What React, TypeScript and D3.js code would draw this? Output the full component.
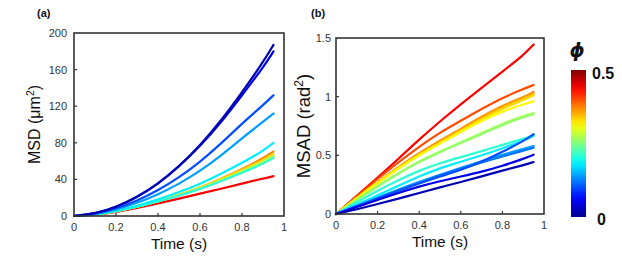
import React from "react";
import * as d3 from "d3";

// time points the curves were read at (s)
const times = [0, 0.1, 0.2, 0.3, 0.4, 0.5, 0.6, 0.7, 0.8, 0.9, 0.95];

// (a) MSD, one row per volume fraction phi
const msdPhi = [0.44, 0.37, 0.33, 0.27, 0.21, 0.18, 0.14, 0.1, 0.05, 0.02];
const msdValues = [
  [0, 1.2, 4.4, 8.8, 13.8, 19, 24.4, 29.8, 35.4, 41, 43.5],
  [0, 1.4, 5, 10, 16, 23, 31, 40.5, 51, 63, 70.5],
  [0, 1.4, 5, 10, 16, 23, 31, 40, 50, 61, 67.5],
  [0, 1.3, 5, 10, 16, 22.5, 30, 39, 48.5, 59, 65.5],
  [0, 1.3, 5, 10, 16, 22, 29.5, 38, 47, 57, 63.5],
  [0, 1.5, 5.5, 11, 18, 26, 35, 46, 58, 71, 80],
  [0, 1.8, 7, 14, 23.5, 35, 49, 66, 85, 103, 112],
  [0, 2, 8, 16.5, 28, 42, 59, 79, 101, 121, 132],
  [0, 2.5, 9.5, 20.5, 35, 54, 76, 102, 132, 162, 180],
  [0, 2.5, 9.5, 20.5, 35, 54, 77, 104, 135, 168, 187],
];

// (b) MSAD
const msadPhi = [0.44, 0.4, 0.37, 0.35, 0.33, 0.315, 0.27, 0.26, 0.21, 0.18, 0.14, 0.12, 0.1, 0.05, 0.02];
const msadValues = [
  [0, 0.155, 0.31, 0.47, 0.635, 0.79, 0.935, 1.075, 1.215, 1.35, 1.445],
  [0, 0.15, 0.3, 0.44, 0.575, 0.695, 0.795, 0.895, 0.99, 1.065, 1.1],
  [0, 0.14, 0.27, 0.4, 0.52, 0.625, 0.725, 0.83, 0.925, 0.995, 1.04],
  [0, 0.14, 0.27, 0.395, 0.51, 0.615, 0.715, 0.82, 0.915, 0.985, 1.025],
  [0, 0.135, 0.265, 0.39, 0.505, 0.605, 0.705, 0.805, 0.9, 0.97, 1.01],
  [0, 0.135, 0.265, 0.39, 0.5, 0.6, 0.7, 0.795, 0.875, 0.935, 0.96],
  [0, 0.12, 0.24, 0.35, 0.45, 0.534, 0.61, 0.69, 0.77, 0.835, 0.86],
  [0, 0.12, 0.235, 0.345, 0.445, 0.528, 0.605, 0.68, 0.76, 0.825, 0.85],
  [0, 0.1, 0.2, 0.29, 0.37, 0.435, 0.485, 0.535, 0.59, 0.64, 0.67],
  [0, 0.08, 0.16, 0.24, 0.32, 0.392, 0.445, 0.5, 0.56, 0.625, 0.665],
  [0, 0.07, 0.14, 0.21, 0.275, 0.335, 0.395, 0.45, 0.505, 0.555, 0.58],
  [0, 0.065, 0.13, 0.2, 0.265, 0.33, 0.385, 0.44, 0.49, 0.54, 0.565],
  [0, 0.065, 0.13, 0.2, 0.26, 0.32, 0.375, 0.445, 0.53, 0.62, 0.68],
  [0, 0.06, 0.12, 0.18, 0.235, 0.28, 0.32, 0.36, 0.41, 0.47, 0.505],
  [0, 0.04, 0.085, 0.13, 0.18, 0.227, 0.272, 0.32, 0.37, 0.415, 0.443],
];

const xTicks = [0, 0.2, 0.4, 0.6, 0.8, 1];
const msdTicks = [0, 40, 80, 120, 160, 200];
const msadTicks = [0, 0.5, 1, 1.5];

// jet colormap over phi in [0, 0.5]
const jet = d3
  .scaleLinear<string>()
  .domain([0, 0.0625, 0.1875, 0.3125, 0.4375, 0.5])
  .range(["#00008f", "#0000ff", "#00ffff", "#ffff00", "#ff0000", "#800000"])
  .interpolate(d3.interpolateRgb)
  .clamp(true);

const font = "'Liberation Sans', Arial, Helvetica, sans-serif";
const axisGray = "#333";

type PanelProps = {
  left: number;
  right: number;
  top: number;
  bottom: number;
  yMax: number;
  yTicks: number[];
  phis: number[];
  values: number[][];
  tag: string;
  tagX: number;
  yLabelX: number;
  yLabelSize: number;
  yLabel: string;
  yUnit: string;
  xLabelY: number;
  tickLabelY: number;
  yTickEnd: number;
};

const Panel = (p: PanelProps) => {
  const x = d3.scaleLinear().domain([0, 1]).range([p.left, p.right]);
  const y = d3.scaleLinear().domain([0, p.yMax]).range([p.bottom, p.top]);
  const line = d3
    .line<number>()
    .x((_, i) => x(times[i]))
    .y((d) => y(d))
    .curve(d3.curveBasis);
  const midY = (p.top + p.bottom) / 2;

  return (
    <g fontFamily={font}>
      <text x={p.tagX} y={17} fontSize={11} fontWeight="bold" fill="#111">
        {p.tag}
      </text>
      {p.values.map((vals, i) => (
        <path
          key={i}
          d={line(vals) || ""}
          fill="none"
          stroke={jet(p.phis[i])}
          strokeWidth={2.2}
          strokeLinecap="round"
        />
      ))}
      <rect
        x={p.left}
        y={p.top}
        width={p.right - p.left}
        height={p.bottom - p.top}
        fill="none"
        stroke={axisGray}
        strokeWidth={1.6}
      />
      {xTicks.slice(1, -1).map((t) => (
        <line key={t} x1={x(t)} x2={x(t)} y1={p.bottom} y2={p.bottom - 3} stroke={axisGray} strokeWidth={1.2} />
      ))}
      {p.yTicks.slice(1, -1).map((t) => (
        <line key={t} x1={p.left} x2={p.left + 3} y1={y(t)} y2={y(t)} stroke={axisGray} strokeWidth={1.2} />
      ))}
      {xTicks.map((t) => (
        <text key={t} x={x(t)} y={p.tickLabelY} fontSize={11} textAnchor="middle" fill="#333">
          {String(t)}
        </text>
      ))}
      {p.yTicks.map((t) => (
        <text key={t} x={p.yTickEnd} y={y(t) + 4} fontSize={11} textAnchor="end" fill="#333">
          {String(t)}
        </text>
      ))}
      <text x={(p.left + p.right) / 2} y={p.xLabelY} fontSize={15.5} textAnchor="middle" fill="#111">
        Time (s)
      </text>
      <text
        transform={`translate(${p.yLabelX},${midY}) rotate(-90)`}
        fontSize={p.yLabelSize}
        textAnchor="middle"
        fill="#111"
      >
        {p.yLabel} ({p.yUnit}
        <tspan dy={-p.yLabelSize * 0.4} fontSize={p.yLabelSize * 0.65}>
          2
        </tspan>
        <tspan dy={p.yLabelSize * 0.4}>)</tspan>
      </text>
    </g>
  );
};

const ColorBar = () => {
  const top = 70;
  const bottom = 217;
  const stops = d3.range(0, 1.0001, 0.05);
  return (
    <g fontFamily={font}>
      <defs>
        <linearGradient id="jetbar" x1="0" y1="1" x2="0" y2="0">
          {stops.map((s) => (
            <stop key={s} offset={s} stopColor={jet(s * 0.5)} />
          ))}
        </linearGradient>
      </defs>
      <rect x={571} y={top} width={15} height={bottom - top} fill="url(#jetbar)" />
      <text
        x={577}
        y={57}
        fontSize={19}
        fontWeight="bold"
        fontStyle="italic"
        textAnchor="middle"
        fill="#111"
        fontFamily="'DejaVu Sans', sans-serif"
      >
        ϕ
      </text>
      <text x={592} y={79} fontSize={16} fontWeight="bold" fill="#111">
        0.5
      </text>
      <text x={597} y={225} fontSize={16} fontWeight="bold" fill="#111">
        0
      </text>
    </g>
  );
};

const App = () => (
  <svg width={622} height={256} style={{ position: "absolute", left: 0, top: 0, background: "#fff" }}>
    <Panel
      left={74}
      right={284}
      top={33}
      bottom={216}
      yMax={200}
      yTicks={msdTicks}
      phis={msdPhi}
      values={msdValues}
      tag="(a)"
      tagX={37}
      yLabelX={40}
      yLabelSize={16}
      yLabel="MSD"
      yUnit="μm"
      xLabelY={249}
      tickLabelY={231}
      yTickEnd={67}
    />
    <Panel
      left={336}
      right={544}
      top={38}
      bottom={214}
      yMax={1.5}
      yTicks={msadTicks}
      phis={msadPhi}
      values={msadValues}
      tag="(b)"
      tagX={311}
      yLabelX={310}
      yLabelSize={18.5}
      yLabel="MSAD"
      yUnit="rad"
      xLabelY={247}
      tickLabelY={229}
      yTickEnd={331}
    />
    <ColorBar />
  </svg>
);

export default App;
